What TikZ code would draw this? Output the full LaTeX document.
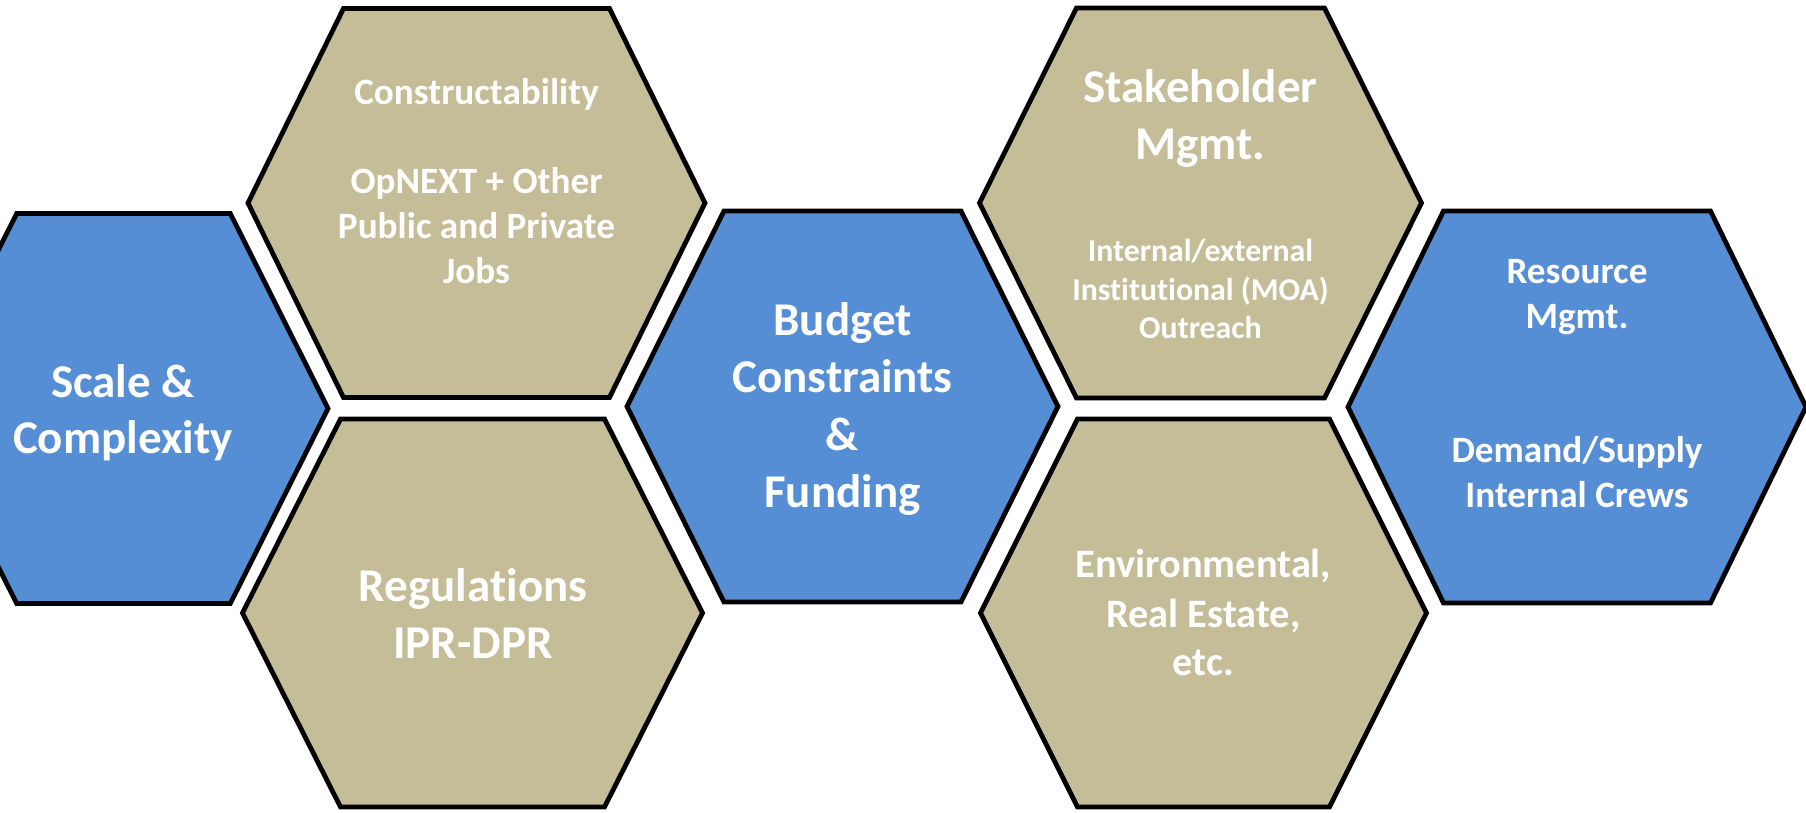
\documentclass[tikz,border=0pt]{standalone}
\usepackage{fontspec}
\setmainfont{Carlito}[Ligatures=NoCommon]
\definecolor{hexblue}{HTML}{558ED5}
\definecolor{hextan}{HTML}{C4BD97}
\newcommand{\fbig}{\fontsize{23.5}{28}\selectfont\bfseries}
\newcommand{\fenv}{\fontsize{20.2}{24}\selectfont\bfseries}
\newcommand{\fmid}{\fontsize{18.6}{22}\selectfont\bfseries}
\newcommand{\fsmall}{\fontsize{15.9}{19}\selectfont\bfseries}
\newcommand{\drawhex}[6]{%
  \draw[hexline, fill=#1] (#2-#4,#3-#6) -- (#2+#4,#3-#6) -- (#2+#5,#3) --
    (#2+#4,#3+#6) -- (#2-#4,#3+#6) -- (#2-#5,#3) -- cycle;}
\tikzset{
  hexline/.style={draw=black, line width=2.4pt, line join=miter},
  lbl/.style={anchor=base, text=white, inner sep=0pt}
}
\begin{document}
\begin{tikzpicture}[x=0.5pt, y=-0.5pt]
\useasboundingbox (0,0) rectangle (1806,813);
\clip (0,0) rectangle (1806,813);
\fill[white] (0,0) rectangle (1806,813);
% hexagons: fill, cx, cy, top half-width, vertex half-width, half-height
\drawhex{hexblue}{123.5}{408.5}{106.8}{204.5}{195}
\drawhex{hextan}{476.5}{203}{133}{228.5}{194.5}
\drawhex{hextan}{472.5}{613}{132}{230}{194}
\drawhex{hexblue}{842.5}{406.5}{118.5}{215.5}{195.5}
\drawhex{hextan}{1200.5}{203}{124}{221}{195}
\drawhex{hextan}{1203.5}{613}{126}{223}{194}
\drawhex{hexblue}{1577}{407}{133.5}{229}{196}
% Scale & Complexity
\node[lbl, font=\fbig] (sc1) at (123,397) {Scale \&};
\node[lbl, font=\fbig] (sc2) at (123,453) {Complexity};
% Constructability
\node[lbl, font=\fmid] (co1) at (476.5,105) {Constructability};
\node[lbl, font=\fmid] (co2) at (476.5,193) {OpNEXT + Other};
\node[lbl, font=\fmid] (co3) at (476.5,238) {Public and Private};
\node[lbl, font=\fmid] (co4) at (476.5,283) {Jobs};
% Regulations
\node[lbl, font=\fbig] (re1) at (473,601.5) {Regulations};
\node[lbl, font=\fbig] (re2) at (473,658) {IPR-DPR};
% Budget
\node[lbl, font=\fbig] (bu1) at (842.5,335) {Budget};
\node[lbl, font=\fbig] (bu2) at (842.5,392) {Constraints};
\node[lbl, font=\fbig] (bu3) at (842.5,450) {\&};
\node[lbl, font=\fbig] (bu4) at (842.5,507) {Funding};
% Stakeholder
\node[lbl, font=\fbig] (st1) at (1200.5,103) {Stakeholder};
\node[lbl, font=\fbig] (st2) at (1200.5,160) {Mgmt.};
\node[lbl, font=\fsmall] (st3) at (1200.5,262) {Internal/external};
\node[lbl, font=\fsmall] (st4) at (1200.5,300) {Institutional (MOA)};
\node[lbl, font=\fsmall] (st5) at (1200.5,338) {Outreach};
% Environmental
\node[lbl, font=\fenv] (en1) at (1203.5,577) {Environmental,};
\node[lbl, font=\fenv] (en2) at (1203.5,627) {Real Estate,};
\node[lbl, font=\fenv] (en3) at (1203.5,675) {etc.};
% Resource
\node[lbl, font=\fmid] (rs1) at (1577,283) {Resource};
\node[lbl, font=\fmid] (rs2) at (1577,328) {Mgmt.};
\node[lbl, font=\fmid] (rs3) at (1577,462) {Demand/Supply};
\node[lbl, font=\fmid] (rs4) at (1577,507) {Internal Crews};
\end{tikzpicture}
\end{document}
